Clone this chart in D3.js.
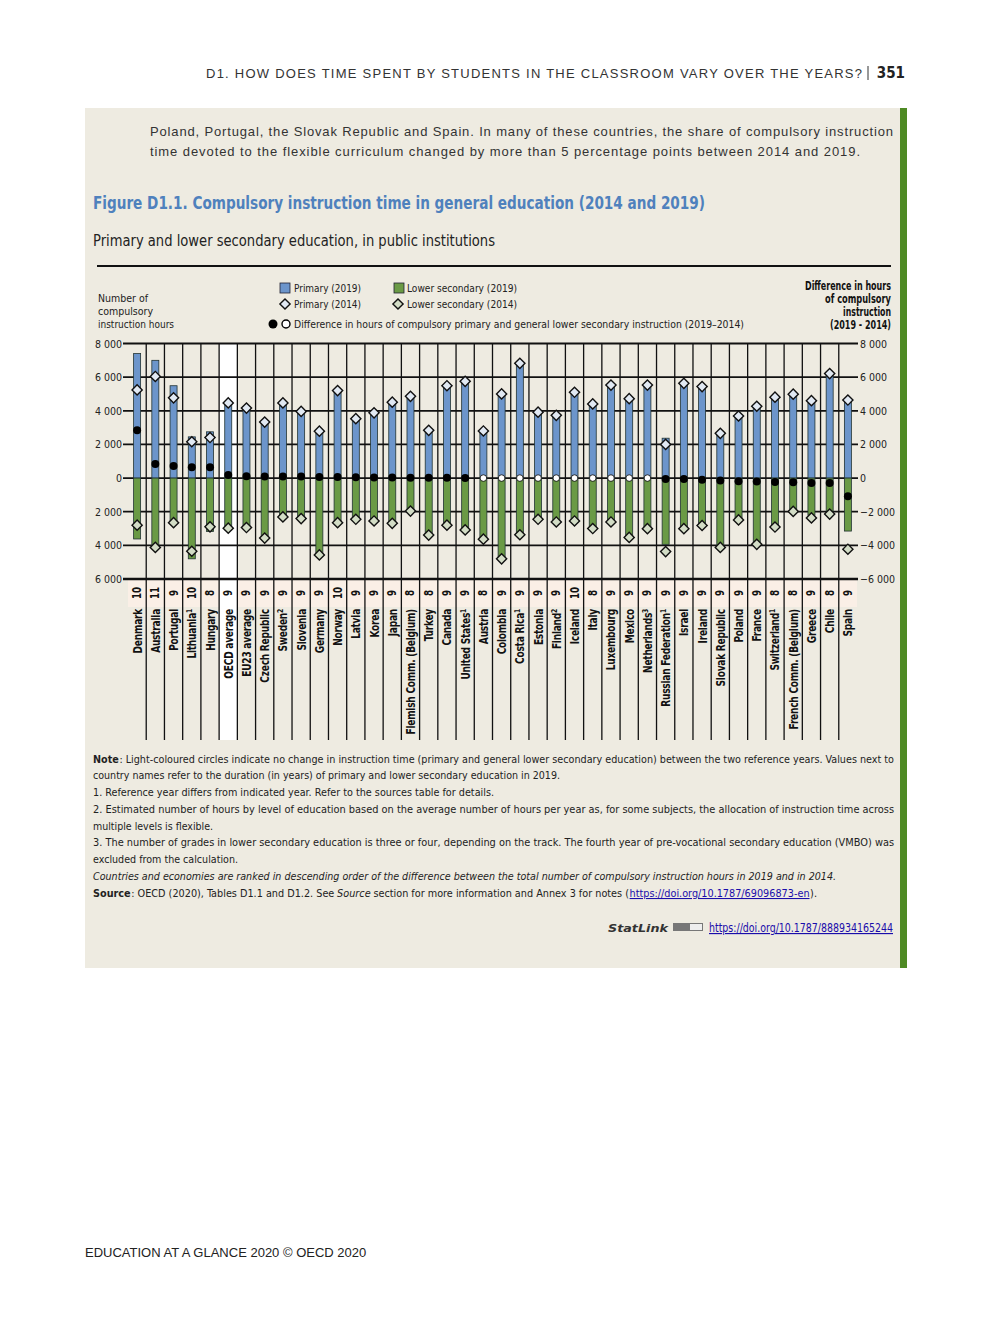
<!DOCTYPE html>
<html>
<head>
<meta charset="utf-8">
<script src="https://cdn.jsdelivr.net/npm/d3@7"></script>
<style>
  body { margin: 0; background: #fff; }
  svg { display: block; }
</style>
</head>
<body>
<script>
// countries in ranking order (2019 - 2014 difference)
var countries = ["Denmark", "Australia", "Portugal", "Lithuania", "Hungary", "OECD average", "EU23 average",
    "Czech Republic", "Sweden", "Slovenia", "Germany", "Norway", "Latvia", "Korea", "Japan",
    "Flemish Comm. (Belgium)", "Turkey", "Canada", "United States", "Austria", "Colombia", "Costa Rica",
    "Estonia", "Finland", "Iceland", "Italy", "Luxembourg", "Mexico", "Netherlands", "Russian Federation",
    "Israel", "Ireland", "Slovak Republic", "Poland", "France", "Switzerland", "French Comm. (Belgium)",
    "Greece", "Chile", "Spain"];
var notes = ["", "", "", "1", "", "", "", "", "2", "", "", "", "", "", "", "", "", "", "1", "", "", "1",
    "", "2", "", "", "", "", "3", "1", "", "", "", "", "", "1", "", "", "", ""];
var years = [10, 11, 9, 10, 8, 9, 9, 9, 9, 9, 9, 10, 9, 9, 9, 8, 8, 9, 9, 8, 9, 9, 9, 9, 10, 8, 9, 9, 9, 9,
    9, 9, 9, 9, 9, 8, 8, 9, 8, 9];
var primary2019 = [7400, 7000, 5490, 2450, 2750, 4560, 4220, 3380, 4520, 4000, 2830, 5230, 3560, 3900, 4530,
    4880, 2850, 5500, 5755, 2800, 5000, 6820, 3920, 3730, 5100, 4410, 5530, 4720, 5530, 2370,
    5600, 5390, 2620, 3600, 4200, 4700, 4870, 4470, 6090, 4560];
var lower2019 = [3620, 4100, 2600, 4800, 3180, 3080, 2990, 3620, 2350, 2450, 4600, 2680, 2470, 2570, 2700,
    1965, 3400, 2805, 3085, 3630, 4800, 3370, 2450, 2610, 2550, 3000, 2610, 3530, 3010, 3940,
    2980, 2770, 4020, 2390, 3810, 2790, 1850, 2210, 1970, 3150];
var primary2014 = [5240, 6040, 4770, 2160, 2410, 4470, 4160, 3330, 4470, 3960, 2790, 5200, 3530, 3880, 4510,
    4860, 2840, 5490, 5750, 2800, 5000, 6820, 3920, 3730, 5100, 4410, 5530, 4720, 5530, 2000,
    5630, 5440, 2660, 3690, 4270, 4810, 4990, 4600, 6210, 4640];
var lower2014 = [2800, 4120, 2650, 4350, 2900, 2980, 2940, 3570, 2310, 2410, 4570, 2650, 2450, 2550, 2690,
    1960, 3390, 2800, 3080, 3630, 4800, 3370, 2450, 2610, 2550, 3000, 2610, 3530, 3010, 4370,
    3010, 2820, 4120, 2490, 3940, 2910, 1980, 2370, 2140, 4230];
var difference = [2840, 830, 720, 650, 640, 190, 110, 100, 90, 90, 70, 60, 50, 40, 30, 25, 20, 15, 10, 0, 0, 0,
    0, 0, 0, 0, 0, 0, 0, -60, -60, -100, -140, -190, -200, -230, -250, -290, -290, -1080];
var yTicks = [8000, 6000, 4000, 2000, 0, -2000, -4000, -6000];

var W = 992, H = 1323;
var narrow = "'Liberation Sans Narrow', 'Arial Narrow', 'DejaVu Sans Condensed', sans-serif";
var sans = "'Liberation Sans', Arial, sans-serif";
var blue = "#6c95cb", green = "#6a9a45";

var svg = d3.select("body").append("svg").attr("width", W).attr("height", H);

// squeeze a text element to a given length
function fit(sel, len) {
    return sel.attr("textLength", len).attr("lengthAdjust", "spacingAndGlyphs");
}

// page header
svg.append("text").attr("x", 862).attr("y", 78).attr("text-anchor", "end")
    .style("font", "13px " + sans).attr("fill", "#333")
    .attr("textLength", 656).attr("lengthAdjust", "spacing")
    .text("D1. HOW DOES TIME SPENT BY STUDENTS IN THE CLASSROOM VARY OVER THE YEARS?");
svg.append("line").attr("x1", 868).attr("x2", 868).attr("y1", 66).attr("y2", 80).attr("stroke", "#333");
svg.append("text").attr("x", 905).attr("y", 78).attr("text-anchor", "end")
    .style("font", "bold 15px " + narrow).attr("fill", "#222").text("351");

// panel
svg.append("rect").attr("x", 85).attr("y", 108).attr("width", 815).attr("height", 860).attr("fill", "#eeebe1");
svg.append("rect").attr("x", 900).attr("y", 108).attr("width", 7).attr("height", 860).attr("fill", "#4e8a24");

svg.append("text").attr("x", 150).attr("y", 136).style("font", "13px " + sans).attr("fill", "#333")
    .attr("textLength", 743).attr("lengthAdjust", "spacing")
    .text("Poland, Portugal, the Slovak Republic and Spain. In many of these countries, the share of compulsory instruction");
svg.append("text").attr("x", 150).attr("y", 156).style("font", "13px " + sans).attr("fill", "#333")
    .attr("textLength", 710).attr("lengthAdjust", "spacing")
    .text("time devoted to the flexible curriculum changed by more than 5 percentage points between 2014 and 2019.");

fit(svg.append("text").attr("x", 93).attr("y", 209).style("font", "bold 18px " + narrow).attr("fill", "#4f81bd")
    .text("Figure D1.1. Compulsory instruction time in general education (2014 and 2019)"), 612);
fit(svg.append("text").attr("x", 93).attr("y", 246).style("font", "16px " + narrow).attr("fill", "#222")
    .text("Primary and lower secondary education, in public institutions"), 402);
svg.append("line").attr("x1", 97).attr("x2", 891).attr("y1", 266).attr("y2", 266)
    .attr("stroke", "#111").attr("stroke-width", 2);

// scales
var x = d3.scaleBand().domain(countries).range([128, 857]);
var y = d3.scaleLinear().domain([-6000, 8000]).range([579, 343.5]);
var cx = d => x(d) + x.bandwidth() / 2;
var labelTop = 607, gridBottom = 740;

// backgrounds: label band and OECD column
svg.append("rect").attr("x", 128).attr("y", y(-6000)).attr("width", 857 - 128).attr("height", labelTop - y(-6000))
    .attr("fill", "#faefe6");
svg.append("rect").attr("x", x("OECD average")).attr("y", y(8000)).attr("width", x.bandwidth())
    .attr("height", gridBottom - y(8000)).attr("fill", "#fff");

// vertical grid between columns
svg.append("g").selectAll("line").data(countries.slice(1)).join("line")
    .attr("x1", d => x(d)).attr("x2", d => x(d))
    .attr("y1", y(8000)).attr("y2", gridBottom)
    .attr("stroke", "#111").attr("stroke-width", 1.3);

// horizontal grid + tick labels
var fmt = v => d3.format(",")(v).replace(",", " ");
svg.append("g").selectAll("line").data(yTicks).join("line")
    .attr("x1", 123).attr("x2", 858).attr("y1", d => y(d)).attr("y2", d => y(d))
    .attr("stroke", "#111").attr("stroke-width", d => d == -6000 ? 2.4 : 1.8);
svg.append("g").selectAll("text").data(yTicks).join("text")
    .attr("x", 122).attr("y", d => y(d) + 4).attr("text-anchor", "end")
    .style("font", "10.5px " + narrow).attr("fill", "#222")
    .text(d => fmt(Math.abs(d)));
svg.append("g").selectAll("text").data(yTicks).join("text")
    .attr("x", 860).attr("y", d => y(d) + 4)
    .style("font", "10.5px " + narrow).attr("fill", "#222")
    .text(d => fmt(d));

// bars
var bw = 7;
svg.append("g").selectAll("rect").data(countries).join("rect")
    .attr("x", d => cx(d) - bw / 2).attr("width", bw)
    .attr("y", (d, i) => y(primary2019[i])).attr("height", (d, i) => y(0) - y(primary2019[i]))
    .attr("fill", blue).attr("stroke", "#233").attr("stroke-width", 0.8);
svg.append("g").selectAll("rect").data(countries).join("rect")
    .attr("x", d => cx(d) - bw / 2).attr("width", bw)
    .attr("y", y(0)).attr("height", (d, i) => y(-lower2019[i]) - y(0))
    .attr("fill", green).attr("stroke", "#233").attr("stroke-width", 0.8);

// diamonds (2014)
var diamond = d3.symbol().type(d3.symbolSquare).size(52);
svg.append("g").selectAll("path").data(countries).join("path")
    .attr("d", diamond)
    .attr("transform", (d, i) => `translate(${cx(d)},${y(primary2014[i])}) rotate(45)`)
    .attr("fill", "#e1e9f3").attr("stroke", "#111").attr("stroke-width", 1.4);
svg.append("g").selectAll("path").data(countries).join("path")
    .attr("d", diamond)
    .attr("transform", (d, i) => `translate(${cx(d)},${y(-lower2014[i])}) rotate(45)`)
    .attr("fill", "#d3ddc6").attr("stroke", "#111").attr("stroke-width", 1.4);

// difference dots
svg.append("g").selectAll("circle").data(countries).join("circle")
    .attr("cx", d => cx(d)).attr("cy", (d, i) => y(difference[i]))
    .attr("r", (d, i) => difference[i] == 0 ? 3.3 : 4)
    .attr("fill", (d, i) => difference[i] == 0 ? "#fff" : "#000")
    .attr("stroke", "#000").attr("stroke-width", (d, i) => difference[i] == 0 ? 0.8 : 0);

// year counts
svg.append("g").selectAll("text").data(countries).join("text")
    .attr("transform", d => `translate(${cx(d) + 4},${(y(-6000) + labelTop) / 2}) rotate(-90) scale(0.85,1)`)
    .attr("text-anchor", "middle")
    .style("font", "bold 11.5px " + narrow).attr("fill", "#111")
    .text((d, i) => years[i]);

// country labels (rotated, squeezed along their length)
var lab = svg.append("g").selectAll("text").data(countries).join("text")
    .attr("transform", d => `translate(${cx(d) + 4.5},${labelTop + 2}) rotate(-90) scale(0.84,1)`)
    .attr("text-anchor", "end")
    .style("font", "bold 12px " + narrow).attr("fill", "#111")
    .attr("letter-spacing", -0.3);
lab.append("tspan").text(d => d);
lab.append("tspan").attr("dy", -4).style("font-size", "8px").text((d, i) => notes[i]);

// legend
var lg = svg.append("g").style("font", "11px " + narrow).attr("fill", "#222");
lg.append("rect").attr("x", 280).attr("y", 283).attr("width", 10).attr("height", 10)
    .attr("fill", blue).attr("stroke", "#223").attr("stroke-width", 0.8);
fit(lg.append("text").attr("x", 294).attr("y", 292).text("Primary (2019)"), 67);
lg.append("rect").attr("x", 394).attr("y", 283).attr("width", 10).attr("height", 10)
    .attr("fill", green).attr("stroke", "#223").attr("stroke-width", 0.8);
fit(lg.append("text").attr("x", 407).attr("y", 292).text("Lower secondary (2019)"), 110);
lg.append("path").attr("d", diamond).attr("transform", "translate(285,304) rotate(45)")
    .attr("fill", "#e1e9f3").attr("stroke", "#111").attr("stroke-width", 1.4);
fit(lg.append("text").attr("x", 294).attr("y", 308).text("Primary (2014)"), 67);
lg.append("path").attr("d", diamond).attr("transform", "translate(398,304) rotate(45)")
    .attr("fill", "#d3ddc6").attr("stroke", "#111").attr("stroke-width", 1.4);
fit(lg.append("text").attr("x", 407).attr("y", 308).text("Lower secondary (2014)"), 110);
lg.append("circle").attr("cx", 273).attr("cy", 324).attr("r", 4.5).attr("fill", "#000");
lg.append("circle").attr("cx", 286).attr("cy", 324).attr("r", 4).attr("fill", "#fff")
    .attr("stroke", "#000").attr("stroke-width", 1.4);
fit(lg.append("text").attr("x", 294).attr("y", 328)
    .text("Difference in hours of compulsory primary and general lower secondary instruction (2019\u20132014)"), 450);

// axis titles
[["Number of", 50], ["compulsory", 55], ["instruction hours", 76]].forEach((t, i) =>
    fit(svg.append("text").attr("x", 98).attr("y", 302 + i * 13)
        .style("font", "10.5px " + narrow).attr("fill", "#222").text(t[0]), t[1]));
[["Difference in hours", 86], ["of compulsory", 66], ["instruction", 48], ["(2019 - 2014)", 61]].forEach((t, i) =>
    fit(svg.append("text").attr("x", 891 - t[1]).attr("y", 290 + i * 13)
        .style("font", "bold 12px " + narrow).attr("fill", "#111").text(t[0]), t[1]));

// notes: each styled run is its own text element; a leading space in a run means a word gap
function noteLine(yy, parts, len) {
    var g = svg.append("g");
    var size = 11.5, space = 2.8, tight = 0.6;
    var make = () => parts.map(p => {
        var t = g.append("text").attr("y", yy).attr("fill", "#222")
            .style("font-family", narrow).style("font-size", size + "px")
            .style("font-weight", p.b ? "bold" : "normal")
            .style("font-style", p.i ? "italic" : "normal")
            .text(p.t.trim());
        if (p.link) t.attr("fill", "#1a0dab").style("text-decoration", "underline");
        return t;
    });
    var gaps = parts.map((p, i) => i == 0 ? 0 : (p.t[0] == " " ? space : tight));
    var els = make();
    var widths = els.map(t => t.node().getComputedTextLength());
    var room = len - d3.sum(gaps);
    if (d3.sum(widths) > room) {
        // shrink the font so the line only ever gets stretched, never squeezed
        size = size * room / d3.sum(widths) * 0.99;
        els.forEach(t => t.remove());
        els = make();
        widths = els.map(t => t.node().getComputedTextLength());
    }
    var k = room / d3.sum(widths), xx = 93;
    els.forEach((t, i) => {
        xx += gaps[i];
        t.attr("x", xx).attr("textLength", widths[i] * k).attr("lengthAdjust", "spacingAndGlyphs");
        xx += widths[i] * k;
    });
}
noteLine(763, [{t: "Note", b: 1}, {t: ": Light-coloured circles indicate no change in instruction time (primary and general lower secondary education) between the two reference years. Values next to"}], 801);
noteLine(779, [{t: "country names refer to the duration (in years) of primary and lower secondary education in 2019."}], 467);
noteLine(796, [{t: "1. Reference year differs from indicated year. Refer to the sources table for details."}], 401);
noteLine(813, [{t: "2. Estimated number of hours by level of education based on the average number of hours per year as, for some subjects, the allocation of instruction time across"}], 801);
noteLine(830, [{t: "multiple levels is flexible."}], 120);
noteLine(846, [{t: "3. The number of grades in lower secondary education is three or four, depending on the track. The fourth year of pre-vocational secondary education (VMBO) was"}], 801);
noteLine(863, [{t: "excluded from the calculation."}], 145);
noteLine(880, [{t: "Countries and economies are ranked in descending order of the difference between the total number of compulsory instruction hours in 2019 and in 2014.", i: 1}], 743);
noteLine(897, [{t: "Source", b: 1}, {t: ": OECD (2020), Tables D1.1 and D1.2. See"}, {t: " Source", i: 1},
    {t: " section for more information and Annex 3 for notes ("}, {t: "https://doi.org/10.1787/69096873-en", link: 1}, {t: ")."}], 724);

// statlink
fit(svg.append("text").attr("x", 608).attr("y", 932)
    .style("font", "italic bold 11px 'DejaVu Sans', sans-serif").attr("fill", "#333")
    .text("StatLink"), 60);
svg.append("rect").attr("x", 673).attr("y", 923).attr("width", 30).attr("height", 8).attr("fill", "#777");
svg.append("rect").attr("x", 690).attr("y", 924).attr("width", 12).attr("height", 6).attr("fill", "#eee");
fit(svg.append("text").attr("x", 709).attr("y", 932)
    .style("font", "11.5px " + narrow).attr("fill", "#1a0dab").style("text-decoration", "underline")
    .text("https://doi.org/10.1787/888934165244"), 184);

// footer
svg.append("text").attr("x", 85).attr("y", 1257).style("font", "13px " + sans).attr("fill", "#222")
    .text("EDUCATION AT A GLANCE 2020 \u00a9 OECD 2020");
</script>
</body>
</html>
